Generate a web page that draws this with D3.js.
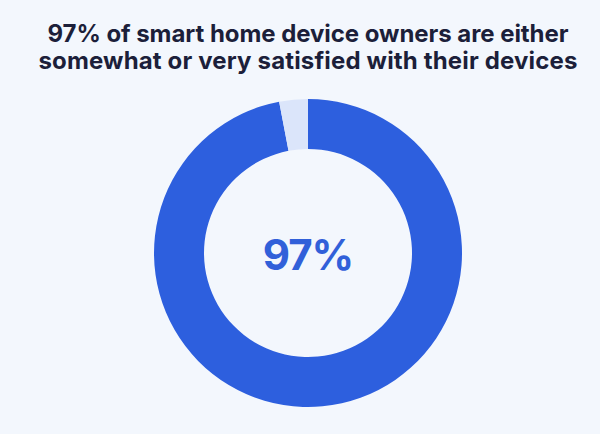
<!DOCTYPE html>
<html>
<head>
<meta charset="utf-8">
<script src="https://cdn.jsdelivr.net/npm/d3@7"></script>
<style>
  html, body { margin: 0; padding: 0; background: #f3f7fd; }
  svg { display: block; }
</style>
</head>
<body>
<div id="chart"></div>
<script>
// Survey result: share of smart home device owners satisfied with their devices
const titleLines = [
  "97% of smart home device owners are either",
  "somewhat or very satisfied with their devices"
];
const categories = ["Satisfied", "Not satisfied"];
const shares = [97, 3];
const centerLabel = "97%";

const width = 600, height = 434;
const cx = 308, cy = 253;
const outerR = 154, innerR = 104;

const svg = d3.select("#chart").append("svg")
  .attr("width", width).attr("height", height);

svg.append("rect").attr("width", width).attr("height", height).attr("fill", "#f3f7fd");

// Title: fixed size, letter spacing adjusted so each line fills its width
const titleWidths = [521, 539];
const title = svg.append("g").attr("class", "title");
title.selectAll("text").data(titleLines).join("text")
  .attr("x", cx)
  .attr("y", (d, i) => 42 + i * 27)
  .attr("text-anchor", "middle")
  .attr("font-family", "Inter, 'Noto Sans', sans-serif")
  .attr("font-weight", 700)
  .attr("font-size", 24)
  .attr("fill", "#1c1f3a")
  .text(d => d)
  .each(function (d, i) {
    const w = this.getComputedTextLength();
    const n = d.length;
    if (w > 0 && n > 1) {
      d3.select(this).attr("letter-spacing", (titleWidths[i] - w) / (n - 1));
    }
  });

// Donut
const color = d3.scaleOrdinal().domain(categories).range(["#2d5fde", "#dbe5fa"]);
const pie = d3.pie().sort(null).value(d => d.value);
const arc = d3.arc().innerRadius(innerR).outerRadius(outerR);
const data = categories.map((c, i) => ({ category: c, value: shares[i] }));

svg.append("g")
  .attr("transform", `translate(${cx},${cy})`)
  .selectAll("path")
  .data(pie(data))
  .join("path")
  .attr("d", arc)
  .attr("fill", d => color(d.data.category));

// Center label
svg.append("text")
  .attr("x", cx)
  .attr("y", 270)
  .attr("text-anchor", "middle")
  .attr("font-family", "Inter, 'Noto Sans', sans-serif")
  .attr("font-weight", 700)
  .attr("font-size", 42)
  .attr("letter-spacing", -1)
  .attr("fill", "#3160d9")
  .text(centerLabel);
</script>
</body>
</html>
